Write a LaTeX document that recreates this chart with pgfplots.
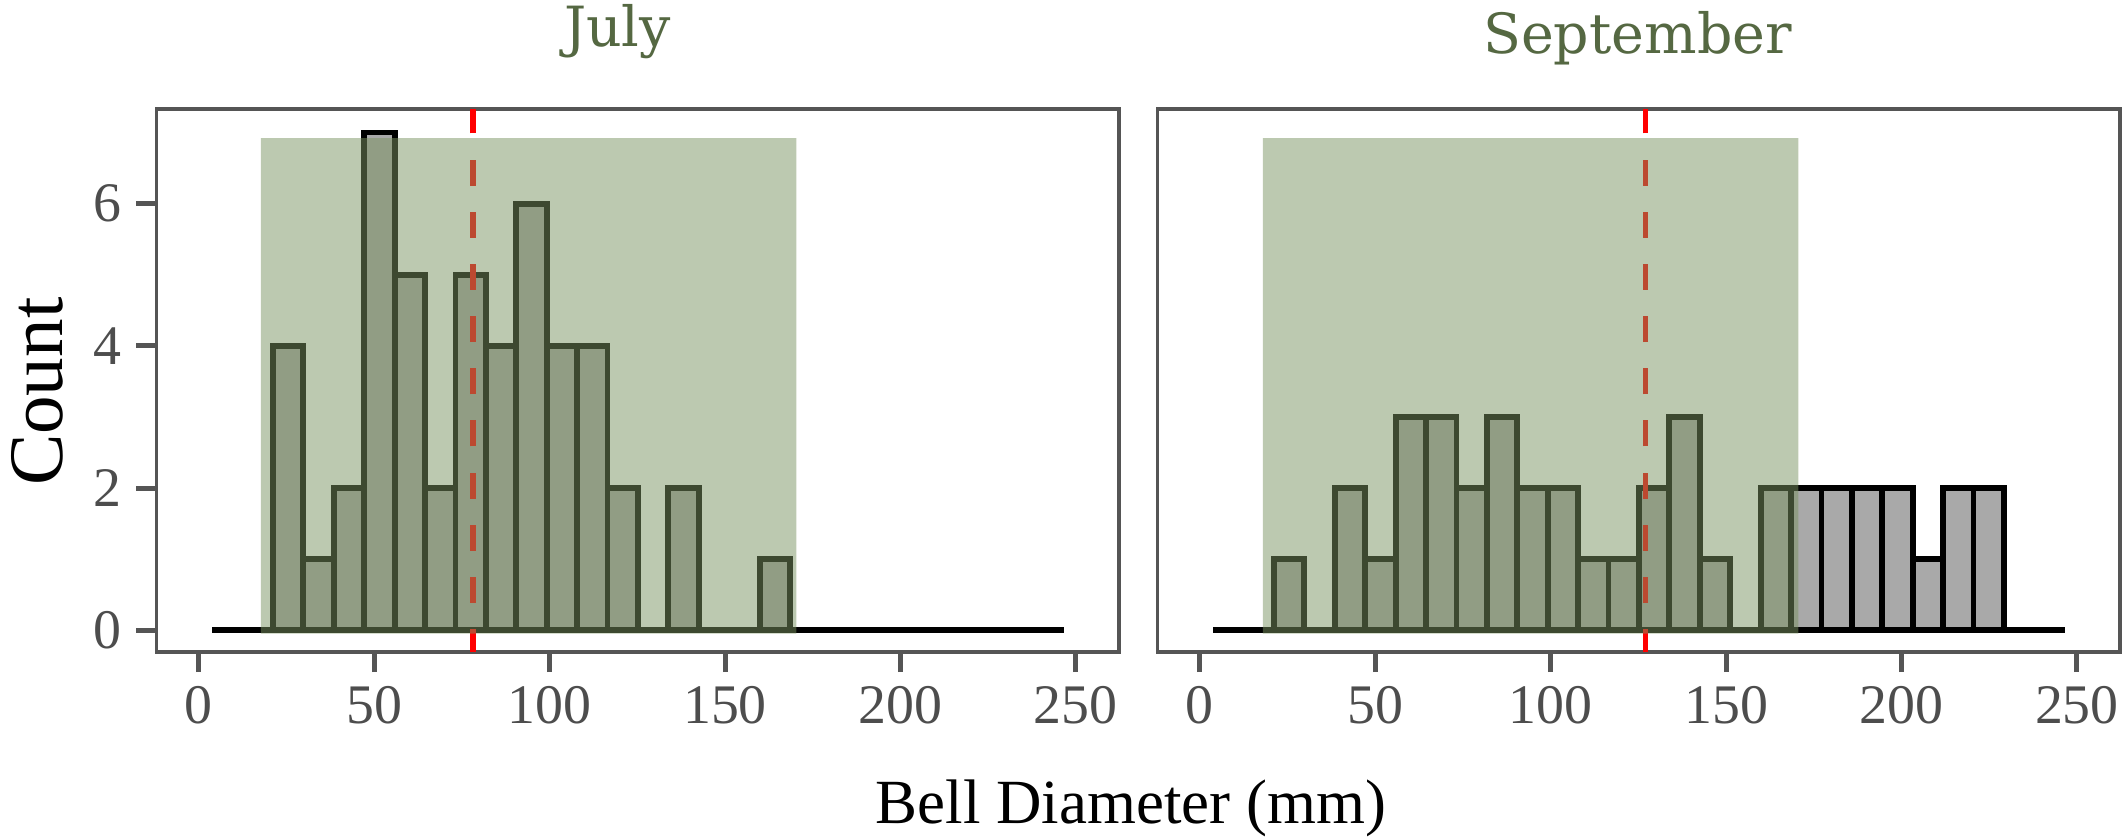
\documentclass[border=0pt]{standalone}
\usepackage{fontspec}
\setmainfont{Liberation Serif}
\newfontfamily\titlefont{DejaVu Serif}
\usepackage{pgfplots}
\usepackage{pgfplotstable}
\pgfplotsset{compat=1.18}
\definecolor{frame}{RGB}{85,85,85}
\definecolor{tickc}{RGB}{77,77,77}
\definecolor{shade}{RGB}{122,147,97}
\definecolor{barfill}{RGB}{169,169,169}
\definecolor{titlec}{RGB}{85,104,66}

\pgfplotstableread{
x julyc sepc
8.135 0 0
16.805 0 0
25.475 4 1
34.145 1 0
42.815 2 2
51.485 7 1
60.155 5 3
68.825 2 3
77.495 5 2
86.165 4 3
94.835 6 2
103.505 4 2
112.175 4 1
120.845 2 1
129.515 0 2
138.185 2 3
146.855 0 1
155.525 0 0
164.195 1 2
172.865 0 2
181.535 0 2
190.205 0 2
198.875 0 2
207.545 0 1
216.215 0 2
224.885 0 2
233.555 0 0
242.225 0 0
}\hist

\pgfplotsset{panel/.style={
  scale only axis, width=231pt, height=130.3pt,
  xmin=-12.06, xmax=262.3, ymin=-0.304, ymax=7.33,
  xtick={0,50,100,150,200,250},
  tick align=outside, tick pos=left,
  major tick length=4.8pt,
  major tick style={draw=frame, line width=1.2pt},
  axis line style={draw=frame, line width=0.8pt},
  ticklabel style={font=\fontsize{13.4}{15}\selectfont, text=tickc},
  /pgf/number format/assume math mode=true,
  anchor=south west,
}}

\begin{document}
\begin{tikzpicture}
\path[use as bounding box] (0,0) rectangle (510.24pt,201.12pt);

\begin{axis}[panel, at={(37.56pt,44.64pt)}, ytick={0,2,4,6}]
\addplot[ybar, bar width=8.67, fill=barfill, draw=black, line width=1.4pt] table[x=x,y=julyc]{\hist};
\addplot[red, line width=1.3pt, dash pattern=on 6.26pt off 6.26pt, dash phase=0.75pt] coordinates {(78.2,-0.304) (78.2,7.33)};
\addplot[draw=none, fill=shade, fill opacity=0.5] coordinates {(17.7,-0.045) (170.3,-0.045) (170.3,6.92) (17.7,6.92) (17.7,-0.045)};
\end{axis}

\begin{axis}[panel, at={(277.8pt,44.64pt)}, ytick=\empty]
\addplot[ybar, bar width=8.67, fill=barfill, draw=black, line width=1.4pt] table[x=x,y=sepc]{\hist};
\addplot[red, line width=1.3pt, dash pattern=on 6.26pt off 6.26pt, dash phase=0.75pt] coordinates {(127.1,-0.304) (127.1,7.33)};
\addplot[draw=none, fill=shade, fill opacity=0.5] coordinates {(18.0,-0.045) (170.6,-0.045) (170.6,6.92) (18.0,6.92) (18.0,-0.045)};
\end{axis}

\node[font=\titlefont\fontsize{13.3}{15}\selectfont, text=titlec, anchor=base, inner sep=0pt] at (148.2pt,189.9pt) {July};
\node[font=\titlefont\fontsize{13.3}{15}\selectfont, text=titlec, anchor=base, inner sep=0pt] at (393.0pt,188.3pt) {September};
\node[font=\fontsize{15.1}{17}\selectfont, anchor=base, inner sep=0pt] at (271.4pt,3.53pt) {Bell Diameter (mm)};
\node[font=\fontsize{18.5}{20}\selectfont, anchor=base, rotate=90, inner sep=0pt] at (15.1pt,107.1pt) {Count};
\end{tikzpicture}
\end{document}
